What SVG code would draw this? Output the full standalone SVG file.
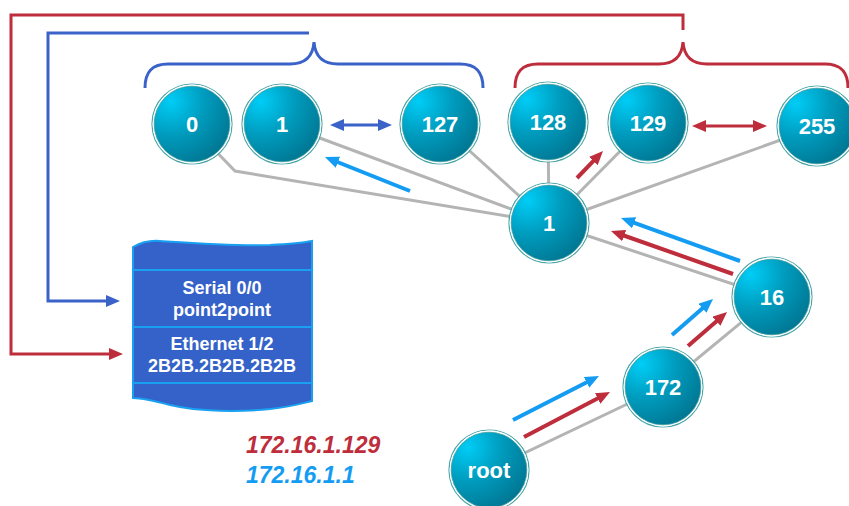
<svg xmlns="http://www.w3.org/2000/svg" width="849" height="506" viewBox="0 0 849 506">
  <defs>
    <radialGradient id="ball" cx="0.22" cy="0.2" r="1.0">
      <stop offset="0" stop-color="#00cdf6"/>
      <stop offset="0.45" stop-color="#009bbd"/>
      <stop offset="1" stop-color="#006f8a"/>
    </radialGradient>
    <marker id="hBlue" viewBox="0 0 14 12" markerWidth="14" markerHeight="12" refX="2" refY="6" orient="auto-start-reverse" markerUnits="userSpaceOnUse">
      <path d="M0,0 L14,6 L0,12 z" fill="#3a62c8"/>
    </marker>
    <marker id="hSky" viewBox="0 0 14 12" markerWidth="14" markerHeight="12" refX="2" refY="6" orient="auto-start-reverse" markerUnits="userSpaceOnUse">
      <path d="M0,0 L14,6 L0,12 z" fill="#149cf2"/>
    </marker>
    <marker id="hRed" viewBox="0 0 14 12" markerWidth="14" markerHeight="12" refX="2" refY="6" orient="auto-start-reverse" markerUnits="userSpaceOnUse">
      <path d="M0,0 L14,6 L0,12 z" fill="#be2d3b"/>
    </marker>
  </defs>
  <style>
    .link { stroke: #b4b4b4; stroke-width: 3; fill: none; }
    .blue { stroke: #3a62c8; stroke-width: 3; fill: none; }
    .red { stroke: #be2d3b; stroke-width: 3; fill: none; }
    .sky { stroke: #149cf2; stroke-width: 4; fill: none; }
    .redA { stroke: #be2d3b; stroke-width: 4; fill: none; }
    .ring { fill: none; stroke: #4aa6a8; stroke-width: 1.2; }
    .gap { fill: none; stroke: #ffffff; stroke-width: 1.6; }
    .core { fill: url(#ball); stroke: #3a9aa0; stroke-width: 0.8; }
    .lbl { font-family: "Liberation Sans", Arial, sans-serif; font-weight: bold; font-size: 22px; fill: #ffffff; text-anchor: middle; }
    .box { font-family: "Liberation Sans", Arial, sans-serif; font-weight: bold; font-size: 18px; fill: #ffffff; text-anchor: middle; }
    .addr { font-family: "Liberation Sans", Arial, sans-serif; font-weight: bold; font-style: italic; font-size: 23px; }
  </style>

  <!-- tree links, arrows, brackets -->
  <g id="connectors">
    <polyline class="link" points="205,140 235,171 549,223"/>
    <line class="link" x1="282" y1="124" x2="549" y2="223"/>
    <line class="link" x1="440" y1="124" x2="549" y2="223"/>
    <line class="link" x1="548" y1="122" x2="549" y2="223"/>
    <line class="link" x1="648" y1="123" x2="549" y2="223"/>
    <line class="link" x1="817" y1="127" x2="549" y2="223"/>
    <line class="link" x1="772" y1="297" x2="549" y2="223"/>
    <line class="link" x1="663" y1="387" x2="772" y2="297"/>
    <line class="link" x1="489" y1="470" x2="663" y2="387"/>

    <!-- braces over the two halves -->
    <path class="blue" d="M145,88 C145,72 152,64 168,64 L290,64 C305,64 313,56 314,42 C315,56 323,64 338,64 L460,64 C476,64 483,72 483,88"/>
    <path class="red" d="M515,88 C515,72 522,64 538,64 L659,64 C674,64 682,56 683,42 C684,56 692,64 707,64 L825,64 C841,64 848,72 848,88"/>

    <!-- leads into the interface table -->
    <polyline class="blue" points="309,33 48,33 48,301 108,301" marker-end="url(#hBlue)"/>
    <polyline class="red" points="683,30 683,15 11,15 11,354 111,354" marker-end="url(#hRed)"/>

    <!-- sibling double arrows -->
    <line class="blue" x1="342" y1="125" x2="380" y2="125" marker-start="url(#hBlue)" marker-end="url(#hBlue)"/>
    <line class="red" x1="704" y1="126" x2="755" y2="126" marker-start="url(#hRed)" marker-end="url(#hRed)"/>

    <!-- lookup path arrows -->
    <line class="sky" x1="410" y1="191" x2="336.1" y2="161.5" marker-end="url(#hSky)"/>
    <line class="redA" x1="577" y1="178" x2="594.7" y2="159.6" marker-end="url(#hRed)"/>
    <line class="sky" x1="740" y1="261" x2="632.3" y2="222.1" marker-end="url(#hSky)"/>
    <line class="redA" x1="733" y1="274" x2="622.3" y2="235" marker-end="url(#hRed)"/>
    <line class="sky" x1="672" y1="335" x2="704" y2="306.9" marker-end="url(#hSky)"/>
    <line class="redA" x1="688" y1="346" x2="718" y2="319.9" marker-end="url(#hRed)"/>
    <line class="sky" x1="513" y1="420" x2="588.3" y2="381.5" marker-end="url(#hSky)"/>
    <line class="redA" x1="524" y1="437" x2="599.4" y2="397.6" marker-end="url(#hRed)"/>
  </g>

  <g id="node-0"><circle class="ring" cx="192" cy="124" r="40"/><circle class="gap" cx="192" cy="124" r="38.6"/><circle class="core" cx="192" cy="124" r="37.8"/><text class="lbl" x="192" y="132">0</text></g>
  <g id="node-1a"><circle class="ring" cx="282" cy="124" r="40"/><circle class="gap" cx="282" cy="124" r="38.6"/><circle class="core" cx="282" cy="124" r="37.8"/><text class="lbl" x="282" y="132">1</text></g>
  <g id="node-127"><circle class="ring" cx="440" cy="124" r="40"/><circle class="gap" cx="440" cy="124" r="38.6"/><circle class="core" cx="440" cy="124" r="37.8"/><text class="lbl" x="440" y="132">127</text></g>
  <g id="node-128"><circle class="ring" cx="548" cy="122" r="40"/><circle class="gap" cx="548" cy="122" r="38.6"/><circle class="core" cx="548" cy="122" r="37.8"/><text class="lbl" x="548" y="130">128</text></g>
  <g id="node-129"><circle class="ring" cx="648" cy="123" r="40"/><circle class="gap" cx="648" cy="123" r="38.6"/><circle class="core" cx="648" cy="123" r="37.8"/><text class="lbl" x="648" y="131">129</text></g>
  <g id="node-255"><circle class="ring" cx="817" cy="126" r="40"/><circle class="gap" cx="817" cy="126" r="38.6"/><circle class="core" cx="817" cy="126" r="37.8"/><text class="lbl" x="817" y="134">255</text></g>
  <g id="node-1b"><circle class="ring" cx="549" cy="223" r="40"/><circle class="gap" cx="549" cy="223" r="38.6"/><circle class="core" cx="549" cy="223" r="37.8"/><text class="lbl" x="549" y="231">1</text></g>
  <g id="node-16"><circle class="ring" cx="772" cy="297" r="40"/><circle class="gap" cx="772" cy="297" r="38.6"/><circle class="core" cx="772" cy="297" r="37.8"/><text class="lbl" x="772" y="305">16</text></g>
  <g id="node-172"><circle class="ring" cx="663" cy="387" r="40"/><circle class="gap" cx="663" cy="387" r="38.6"/><circle class="core" cx="663" cy="387" r="37.8"/><text class="lbl" x="663" y="395">172</text></g>
  <g id="node-root"><circle class="ring" cx="489" cy="470" r="40"/><circle class="gap" cx="489" cy="470" r="38.6"/><circle class="core" cx="489" cy="470" r="37.8"/><text class="lbl" x="489" y="478">root</text></g>

  <!-- interface table -->
  <g id="interfaces">
    <path d="M133,247 C140,243 148,240 160,241 C190,243 230,246 270,245 C290,244 302,243 312,241 L312,401 C300,404 290,407 270,409 C240,412 200,412 170,405 C155,401 143,398 133,398 Z" fill="#3562c8" stroke="#1aa0f0" stroke-width="2"/>
    <line x1="133" y1="270" x2="312" y2="270" stroke="#1aa0f0" stroke-width="2"/>
    <line x1="133" y1="327" x2="312" y2="327" stroke="#1aa0f0" stroke-width="2"/>
    <line x1="133" y1="383" x2="312" y2="383" stroke="#1aa0f0" stroke-width="2"/>
    <text class="box" x="222" y="294">Serial 0/0</text>
    <text class="box" x="222" y="316">point2point</text>
    <text class="box" x="222" y="350">Ethernet 1/2</text>
    <text class="box" x="222" y="372">2B2B.2B2B.2B2B</text>
  </g>

  <g id="addresses">
    <text class="addr" x="246" y="453" fill="#be2d3b">172.16.1.129</text>
    <text class="addr" x="246" y="483" fill="#149cf2">172.16.1.1</text>
  </g>
</svg>
